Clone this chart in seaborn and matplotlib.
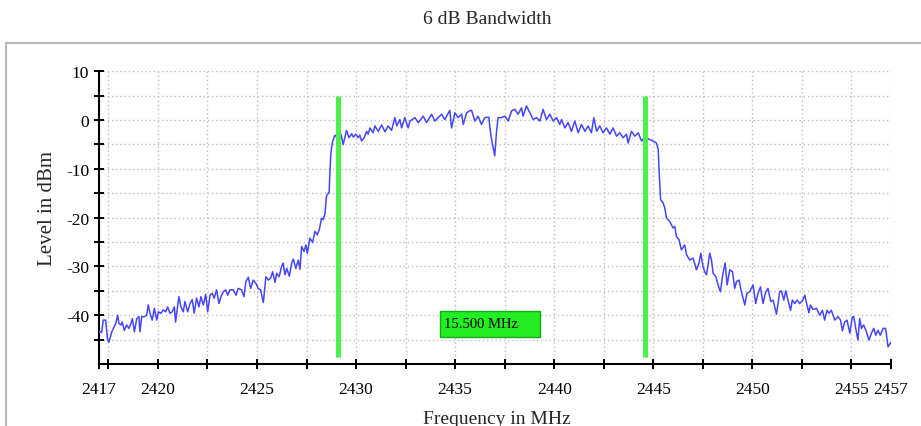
import matplotlib
matplotlib.use("Agg")
import matplotlib.pyplot as plt
import seaborn as sns
from matplotlib.lines import Line2D
from matplotlib.patches import Rectangle

# ---- data (frequency in MHz, level in dBm) ----
freq_mhz = [
    2417.00, 2417.16, 2417.24, 2417.36, 2417.46, 2417.53, 2417.67, 2417.75, 2417.87, 2417.97,
    2418.03, 2418.14, 2418.20, 2418.30, 2418.42, 2418.54, 2418.64, 2418.71, 2418.81, 2418.93,
    2419.04, 2419.09, 2419.18, 2419.31, 2419.43, 2419.51, 2419.60, 2419.71, 2419.82, 2419.94,
    2420.02, 2420.15, 2420.27, 2420.39, 2420.49, 2420.61, 2420.72, 2420.83, 2420.89, 2421.00,
    2421.06, 2421.16, 2421.28, 2421.36, 2421.50, 2421.62, 2421.73, 2421.83, 2421.95, 2422.07,
    2422.17, 2422.29, 2422.41, 2422.51, 2422.63, 2422.74, 2422.84, 2422.96, 2423.08, 2423.18,
    2423.30, 2423.42, 2423.52, 2423.63,
    2423.80, 2423.94, 2424.05, 2424.22, 2424.34, 2424.44, 2424.56, 2424.68, 2424.81, 2424.95,
    2425.06, 2425.18, 2425.32, 2425.45, 2425.57, 2425.69, 2425.79, 2425.91, 2425.99, 2426.12,
    2426.24, 2426.32, 2426.41, 2426.50, 2426.63, 2426.75, 2426.83, 2426.96, 2427.08, 2427.17,
    2427.25, 2427.37, 2427.47, 2427.54, 2427.67, 2427.81, 2427.92, 2428.04, 2428.14, 2428.26,
    2428.34, 2428.43, 2428.51, 2428.64, 2428.68, 2428.73, 2428.82, 2428.93, 2429.05, 2429.15,
    2429.24, 2429.35, 2429.52, 2429.64, 2429.78, 2429.86, 2429.98, 2430.11, 2430.19, 2430.28,
    2430.41, 2430.53, 2430.61, 2430.70, 2430.86, 2430.95, 2431.12, 2431.29, 2431.46, 2431.62,
    2431.79, 2431.96, 2432.05, 2432.21, 2432.30, 2432.46, 2432.63, 2432.72, 2432.97, 2433.14,
    2433.39, 2433.56, 2433.81, 2433.98, 2434.14, 2434.32, 2434.48, 2434.73, 2434.82, 2434.99,
    2435.15, 2435.33, 2435.41, 2435.58, 2435.74, 2435.83, 2436.00, 2436.16, 2436.33, 2436.50,
    2436.70, 2436.80,
    2436.89, 2437.00, 2437.09, 2437.17, 2437.34, 2437.51, 2437.68, 2437.85, 2438.01, 2438.18,
    2438.35, 2438.43, 2438.60, 2438.77, 2438.94, 2439.11, 2439.28, 2439.44, 2439.61, 2439.78,
    2439.95, 2440.12, 2440.28, 2440.37, 2440.54, 2440.70, 2440.87, 2441.04, 2441.21, 2441.38,
    2441.55, 2441.71, 2441.88, 2442.00, 2442.14, 2442.30, 2442.47, 2442.64, 2442.81, 2442.97,
    2443.15, 2443.31, 2443.48, 2443.65, 2443.73, 2443.90, 2444.07, 2444.24, 2444.41, 2444.57,
    2444.83, 2445.00, 2445.16, 2445.25,
    2445.30, 2445.37, 2445.50, 2445.58, 2445.67, 2445.83, 2446.00, 2446.09, 2446.17, 2446.30,
    2446.42, 2446.59, 2446.68, 2446.84, 2447.01, 2447.18, 2447.31, 2447.40, 2447.51, 2447.60,
    2447.69, 2447.85, 2447.94, 2448.02, 2448.16, 2448.27, 2448.39, 2448.52, 2448.63, 2448.73,
    2448.86, 2449.00, 2449.11, 2449.20, 2449.33, 2449.45, 2449.62, 2449.73, 2449.87, 2450.04,
    2450.17, 2450.29, 2450.41, 2450.54, 2450.68, 2450.79, 2450.93, 2451.05, 2451.22,
    2451.30, 2451.38, 2451.47, 2451.59, 2451.69, 2451.80, 2451.93, 2452.02, 2452.14, 2452.26,
    2452.39, 2452.53, 2452.65, 2452.76, 2452.86, 2452.93, 2453.06, 2453.24, 2453.40, 2453.54,
    2453.65, 2453.77, 2453.87, 2453.99, 2454.16, 2454.33, 2454.45, 2454.55, 2454.66, 2454.78,
    2454.92, 2455.05, 2455.12, 2455.22, 2455.33, 2455.42, 2455.51, 2455.62, 2455.76, 2455.89,
    2456.01, 2456.13, 2456.23, 2456.34, 2456.46, 2456.60, 2456.73, 2456.85, 2457.00,
]
level_dbm = [
    -43.4, -43.5, -41.0, -41.0, -45.1, -45.5, -43.4, -42.7, -41.7, -40.0,
    -41.7, -42.0, -41.4, -43.1, -42.0, -42.7, -41.7, -40.7, -43.4, -40.7,
    -40.3, -43.4, -40.3, -40.3, -40.0, -37.9, -39.6, -41.0, -38.6, -41.0,
    -39.3, -39.6, -38.9, -39.3, -38.3, -39.6, -39.3, -38.3, -41.4, -37.9,
    -36.2, -38.3, -39.3, -37.2, -39.3, -37.6, -36.8, -39.6, -36.5, -38.3,
    -36.2, -37.9, -35.7, -39.3, -35.9, -35.5, -36.5, -34.8, -37.6, -36.2,
    -35.2, -34.8, -35.9, -34.8,
    -34.8, -35.9, -34.5, -34.8, -36.2, -33.1, -32.2, -34.5, -32.8, -33.5,
    -34.5, -34.8, -37.4, -32.1, -32.8, -32.4, -31.1, -33.3, -31.4, -32.1,
    -30.0, -29.3, -31.7, -30.4, -32.0, -29.3, -28.5, -30.4, -28.7, -30.6,
    -25.9, -26.9, -25.6, -27.3, -24.2, -25.1, -22.8, -23.5, -22.5, -20.1,
    -20.4, -19.2, -15.5, -14.8, -10.8, -6.7, -4.3, -3.1, -3.6, -2.8,
    -2.9, -5.0, -2.1, -3.6, -2.8, -3.5, -2.9, -3.6, -3.1, -4.3,
    -3.6, -2.3, -2.9, -1.6, -2.6, -1.2, -2.3, -1.0, -2.4, -1.2,
    -2.1, 0.5, -1.2, 0.1, -1.6, 0.5, -1.6, -0.2, 0.5, -0.5,
    0.8, -0.5, 1.2, -0.2, 0.5, 1.2, 0.1, 2.0, -1.6, 1.5,
    0.5, 1.2, -0.9, 1.5, 1.9, 2.0, -0.2, 0.8, -0.9, 0.5,
    0.6, -3.0,
    -5.0, -7.3, -2.3, 0.5, 0.5, 0.8, -0.2, 1.9, 2.2, 1.2,
    2.5, 0.8, 2.9, 1.5, 0.1, 0.5, -0.2, 2.2, 0.1, 1.2,
    -0.2, 0.5, -0.9, 0.1, -1.6, -0.5, -2.3, -0.2, -2.6, -0.9,
    -2.3, -1.2, -2.6, 0.5, -2.3, -1.2, -2.6, -1.6, -2.9, -1.6,
    -3.3, -2.6, -3.6, -2.9, -4.7, -2.3, -3.3, -2.6, -4.3, -3.5,
    -4.0, -4.3, -4.7, -6.0,
    -10.8, -16.3, -17.0, -18.0, -20.1, -20.8, -22.1, -21.8, -23.9, -24.5,
    -26.6, -25.6, -27.6, -28.7, -28.3, -30.7, -29.3, -27.3, -30.0, -31.1,
    -31.7, -27.3, -28.7, -31.4, -32.1, -33.8, -35.2, -31.4, -29.3, -33.8,
    -30.7, -31.1, -34.5, -33.1, -32.8, -35.2, -37.9, -35.5, -35.2, -33.8,
    -37.6, -35.5, -34.2, -37.6, -35.2, -34.5, -37.2, -36.9, -39.8,
    -37.6, -35.2, -35.0, -36.9, -35.0, -36.9, -39.0, -36.9, -37.6, -36.9,
    -37.6, -37.0, -35.9, -37.9, -39.5, -37.9, -38.8, -38.6, -40.0, -39.0,
    -41.0, -39.0, -39.6, -39.0, -41.0, -40.3, -41.0, -43.2, -41.4, -41.0,
    -43.7, -40.3, -40.3, -42.7, -45.1, -40.7, -42.7, -42.0, -43.4, -45.1,
    -43.7, -42.7, -44.1, -43.1, -44.1, -42.7, -42.7, -46.5, -45.5,
]

marker_freqs = [2429.07, 2444.57]      # 6 dB bandwidth markers
marker_top, marker_bottom = 5.0, -48.5
bandwidth_label = "15.500 MHz"
label_box = (2434.25, -44.5, 5.05, 5.4)  # x, y, width, height in data units

title_text = "6 dB Bandwidth"
x_label = "Frequency in MHz"
y_label = "Level in dBm"

x_ticks = [2417, 2417.5, 2420, 2422.5, 2425, 2427.5, 2430, 2432.5, 2435, 2437.5,
           2440, 2442.5, 2445, 2447.5, 2450, 2452.5, 2455, 2457]
x_tick_labels = ["2417", "", "2420", "", "2425", "", "2430", "", "2435", "",
                 "2440", "", "2445", "", "2450", "", "2455", "2457"]
y_ticks = [-45, -40, -35, -30, -25, -20, -15, -10, -5, 0, 5, 10]
y_tick_labels = ["", "-40", "", "-30", "", "-20", "", "-10", "", "0", "", "10"]

# ---- style ----
sns.set_style("white")
plt.rcParams["font.family"] = ["Liberation Serif", "DejaVu Serif"]

W, H = 921, 427
fig = plt.figure(figsize=(W / 100, H / 100), dpi=100)
ax = fig.add_axes([98.5 / W, 1 - 365 / H, (891 - 98.5) / W, (365 - 72.3) / H])

sns.lineplot(x=freq_mhz, y=level_dbm, ax=ax, color="#4646ff", linewidth=1.1,
             estimator=None, sort=False, zorder=3)

ax.set_xlim(2417, 2457)
ax.set_ylim(-50, 10)
ax.set_xticks(x_ticks)
ax.set_xticklabels(x_tick_labels)
ax.set_yticks(y_ticks)
ax.set_yticklabels(y_tick_labels)
ax.set_xlabel("")
ax.set_ylabel("")

ax.grid(True, color="#bdbdbd", linestyle=(0, (1, 2)), linewidth=1.0)
ax.set_axisbelow(True)
for s in ["top", "right"]:
    ax.spines[s].set_visible(False)
for s in ["left", "bottom"]:
    ax.spines[s].set_color("black")
    ax.spines[s].set_linewidth(1.5)
ax.tick_params(axis="both", which="major", bottom=True, left=True, top=False, right=False,
               direction="inout", length=7.5, width=1.4, color="black",
               labelsize=12.5, labelcolor="black")
ax.tick_params(axis="y", pad=3.0)
ax.tick_params(axis="x", pad=8.5)

# bandwidth markers
ax.vlines(marker_freqs, marker_bottom, marker_top, color="#4cf04c", linewidth=3.6, zorder=4)
bx, by, bw, bh = label_box
ax.add_patch(Rectangle((bx, by), bw, bh, facecolor="#22ee22", edgecolor="#16a816",
                       linewidth=1.0, zorder=5))
ax.text(bx + 0.2, by + bh / 2, bandwidth_label, ha="left", va="center",
        fontsize=10.5, color="black", zorder=6)

# texts
fig.text(487 / W, 1 - 19 / H, title_text, ha="center", va="center", fontsize=14)
fig.text(497 / W, 1 - 424.5 / H, x_label, ha="center", va="baseline", fontsize=14)
fig.text(47 / W, 1 - 209 / H, y_label, ha="center", va="center", rotation=90, fontsize=15)

# outer frame (top and left edges visible)
fc = "#b8b8b8"
fig.add_artist(Line2D([5.5 / W, 1.0], [1 - 44 / H, 1 - 44 / H], transform=fig.transFigure,
                      color=fc, linewidth=1.5))
fig.add_artist(Line2D([5.5 / W, 5.5 / W], [0.0, 1 - 44 / H], transform=fig.transFigure,
                      color=fc, linewidth=1.5))

fig.savefig("out.png", dpi=100)
